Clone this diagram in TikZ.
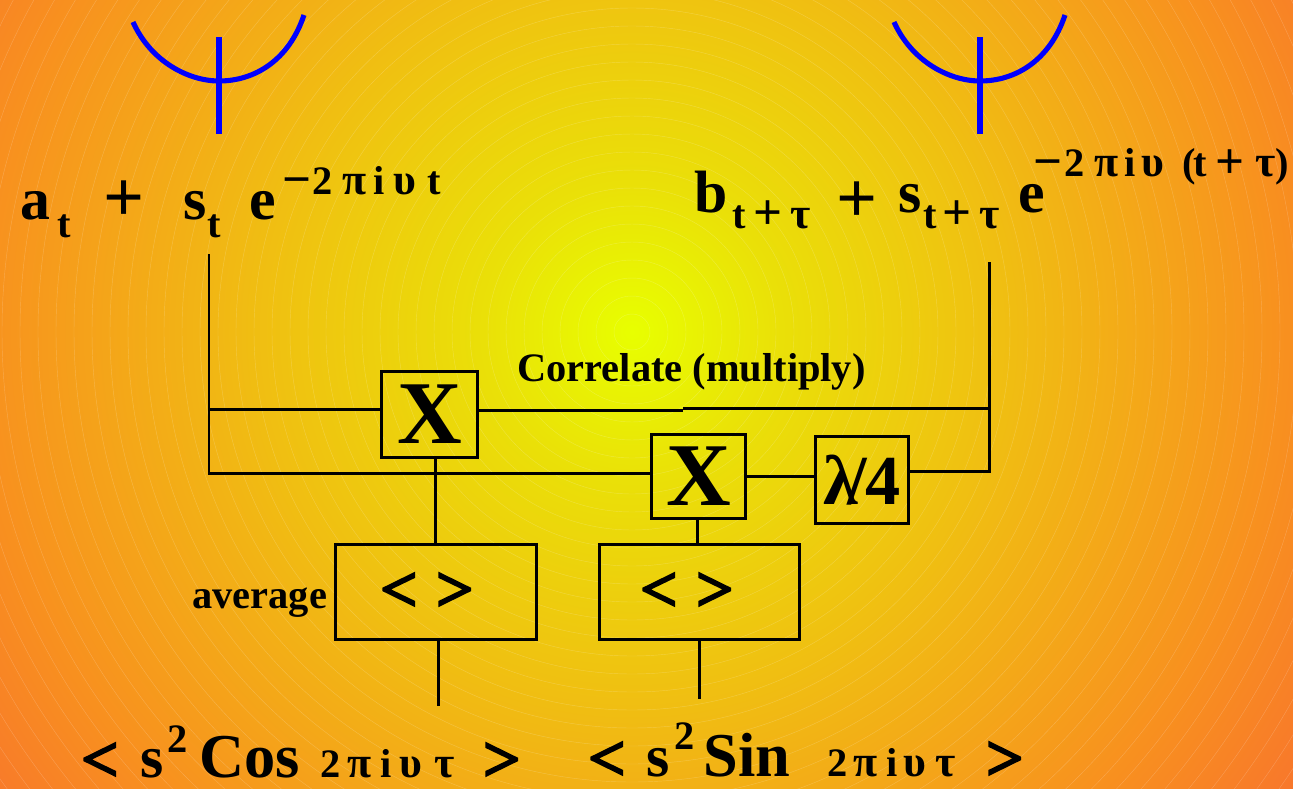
\documentclass[tikz,border=0pt]{standalone}
\usepackage{fontspec}
\setmainfont{Liberation Serif}
\newfontfamily\heavyfont[FakeBold=4]{Liberation Serif}
\definecolor{glowa}{HTML}{E8FF00}
\definecolor{glowb}{HTML}{EAE008}
\definecolor{glowc}{HTML}{F0BE12}
\definecolor{glowd}{HTML}{F8901F}
\definecolor{glowe}{HTML}{F8762C}
\definecolor{dishblue}{HTML}{0000FF}
\pgfdeclareradialshading{glow}{\pgfpoint{0bp}{0bp}}{
  color(0bp)=(glowa); color(4.6bp)=(glowb); color(11.6bp)=(glowc);
  color(20.2bp)=(glowd); color(25bp)=(glowe); color(50bp)=(glowe)}
\tikzset{
  wire/.style={draw=black, line width=1.7pt},
  dish/.style={draw=dishblue, line width=2.9pt},
  block/.style={draw=black, line width=1.7pt, inner sep=0pt},
  mainsym/.style={anchor=base west, inner sep=0pt, font=\fontsize{34}{34}\selectfont\bfseries},
  wordsym/.style={anchor=base west, inner sep=0pt, font=\fontsize{35.5}{35.5}\selectfont\bfseries},
  plussym/.style={anchor=base west, inner sep=0pt, font=\fontsize{41}{41}\selectfont\bfseries},
  smallsym/.style={anchor=base west, inner sep=0pt, font=\fontsize{23}{23}\selectfont\bfseries},
  greeksym/.style={anchor=base west, inner sep=0pt, font=\fontsize{25}{25}\selectfont\bfseries},
  opsym/.style={anchor=base west, inner sep=0pt, font=\fontsize{29}{29}\selectfont\bfseries},
  chevron/.style={anchor=base west, inner sep=0pt, font=\fontsize{37}{37}\selectfont\heavyfont},
  note/.style={anchor=base west, inner sep=0pt, font=\fontsize{23}{23}\selectfont\bfseries}
}
\begin{document}
\begin{tikzpicture}[x=0.02cm, y=-0.02cm]
    \useasboundingbox (0,0) rectangle (1293,788);
    % Background glow
    \begin{scope}
        \clip (0,0) rectangle (1293,788);
        \shade[shading=glow] (632,332) circle (810);
        \foreach \r in {18,36,...,810}
            \draw[white, opacity=0.2, line width=0.25pt] (632,332) circle (\r);
    \end{scope}

    % Dishes
    \foreach \x/\n in {219/dishl, 980/dishr} {
        \draw[dish] (\x-86,22) .. controls (\x-68,62) and (\x-30,81) .. (\x,81)
            .. controls (\x+36,81) and (\x+70,60) .. (\x+85,15);
        \coordinate (\n top) at (\x,37);
        \coordinate (\n foot) at (\x,134);
        \draw[dish, line width=3.4pt] (\n top) -- (\n foot);
    }

    % Left signal
    \foreach \x/\c in {20/a, 183/s, 249/e}
        \node[mainsym] (sigl\c) at (\x,219) {\c};
    \node[plussym] (plusl) at (103,221) {+};
    \foreach \x/\c/\n in {57/t/a, 207/t/b}
        \node[smallsym] (subl\n) at (\x,237) {\c};
    \node[opsym] (supla) at (282,196) {−};
    \foreach \x/\c/\n in {312/2/b, 373/i/d, 427/t/f}
        \node[smallsym] (supl\n) at (\x,194) {\c};
    \foreach \x/\c/\n in {342/π/c, 393/υ/e}
        \node[greeksym] (supl\n) at (\x,194) {\c};

    % Right signal
    \foreach \x/\c in {694/b, 898/s, 1018/e}
        \node[mainsym] (sigr\c) at (\x,212) {\c};
    \node[plussym] (plusr) at (836,222) {+};
    \foreach \x/\c/\n in {732/t/a, 923/t/d}
        \node[smallsym] (subr\n) at (\x,228) {\c};
    \foreach \x/\c/\n in {753/+/b, 942/+/e}
        \node[opsym] (subr\n) at (\x,229) {\c};
    \foreach \x/\c/\n in {790/τ/c, 979/τ/f}
        \node[greeksym] (subr\n) at (\x,228) {\c};
    \node[opsym] (supra) at (1033,178) {−};
    \foreach \x/\c/\n in {1064/2/b, 1124/i/d, 1182/(/f, 1193/t/g, 1275/)/j}
        \node[smallsym] (supr\n) at (\x,176) {\c};
    \node[opsym] (suprh) at (1215,178) {+};
    \foreach \x/\c/\n in {1094/π/c, 1141/υ/e, 1255/τ/i}
        \node[greeksym] (supr\n) at (\x,176) {\c};

    % Blocks
    \node[block, minimum width=55pt, minimum height=49.3pt, font=\fontsize{51}{51}\selectfont\bfseries] (mulcos) at (429.5,414.5) {X};
    \node[block, minimum width=53.9pt, minimum height=48.2pt, font=\fontsize{51}{51}\selectfont\bfseries] (mulsin) at (698.5,476.5) {X};
    \node[block, minimum width=53.3pt, minimum height=49.9pt, font=\fontsize{40}{40}\selectfont\bfseries] (quarter) at (862,480) {λ\kern-.16em/\kern-.02em4};
    \node[block, minimum width=114.5pt, minimum height=54.4pt] (avgcos) at (436,592) {};
    \node[block, minimum width=114pt, minimum height=54.4pt] (avgsin) at (699.5,592) {};
    \node[chevron] (ltavgcos) at (380,611) {<};
    \node[chevron] (gtavgcos) at (436,611) {>};
    \node[chevron] (ltavgsin) at (640,611) {<};
    \node[chevron] (gtavgsin) at (696,611) {>};

    % Labels
    \node[note] (correlate) at (517,381) {Correlate (multiply)};
    \node[note] (average) at (192,608) {average};

    % Wires
    \coordinate (lefttop) at (209,254);
    \coordinate (leftjoin) at (209,409);
    \coordinate (leftfoot) at (209,473);
    \coordinate (righttop) at (989,262);
    \coordinate (rightjoin) at (989,408);
    \coordinate (rightfoot) at (989,471);
    \coordinate (stepa) at (683,410);
    \coordinate (stepb) at (683,408);
    \coordinate (cosdrop) at (435,458);
    \coordinate (sindrop) at (697,519);
    \coordinate (cosout) at (438,706);
    \coordinate (sinout) at (699,699);
    \draw[wire] (lefttop) -- (leftfoot) -- (leftfoot -| mulsin.west);
    \draw[wire] (leftjoin) -- (leftjoin -| mulcos.west);
    \draw[wire] (stepa -| mulcos.east) -- (stepa);
    \draw[wire] (stepb) -- (rightjoin);
    \draw[wire] (righttop) -- (rightfoot) -- (rightfoot -| quarter.east);
    \draw[wire] (mulsin.east) -- (mulsin.east -| quarter.west);
    \draw[wire] (cosdrop) -- (cosdrop |- avgcos.north);
    \draw[wire] (sindrop) -- (sindrop |- avgsin.north);
    \draw[wire] (avgcos.south -| cosout) -- (cosout);
    \draw[wire] (avgsin.south -| sinout) -- (sinout);

    % Bottom results
    \node[chevron] (ltcos) at (81,781) {<};
    \node[mainsym] (scos) at (140,777) {s};
    \node[smallsym] (twocos) at (167,752) {2};
    \node[wordsym] (cosword) at (199,777) {Cos};
    \foreach \x/\c/\n in {320/2/a, 380/i/c}
        \node[smallsym] (argcos\n) at (\x,777) {\c};
    \foreach \x/\c/\n in {347/π/b, 399/υ/d, 434/τ/e}
        \node[greeksym] (argcos\n) at (\x,777) {\c};
    \node[chevron] (gtcos) at (483,781) {>};
    \node[chevron] (ltsin) at (588,780) {<};
    \node[mainsym] (ssin) at (646,776) {s};
    \node[smallsym] (twosin) at (674,749) {2};
    \node[wordsym] (sinword) at (703,776) {Sin};
    \foreach \x/\c/\n in {827/2/a, 886/i/c}
        \node[smallsym] (argsin\n) at (\x,776) {\c};
    \foreach \x/\c/\n in {853/π/b, 903/υ/d, 935/τ/e}
        \node[greeksym] (argsin\n) at (\x,776) {\c};
    \node[chevron] (gtsin) at (986,780) {>};
\end{tikzpicture}
\end{document}
